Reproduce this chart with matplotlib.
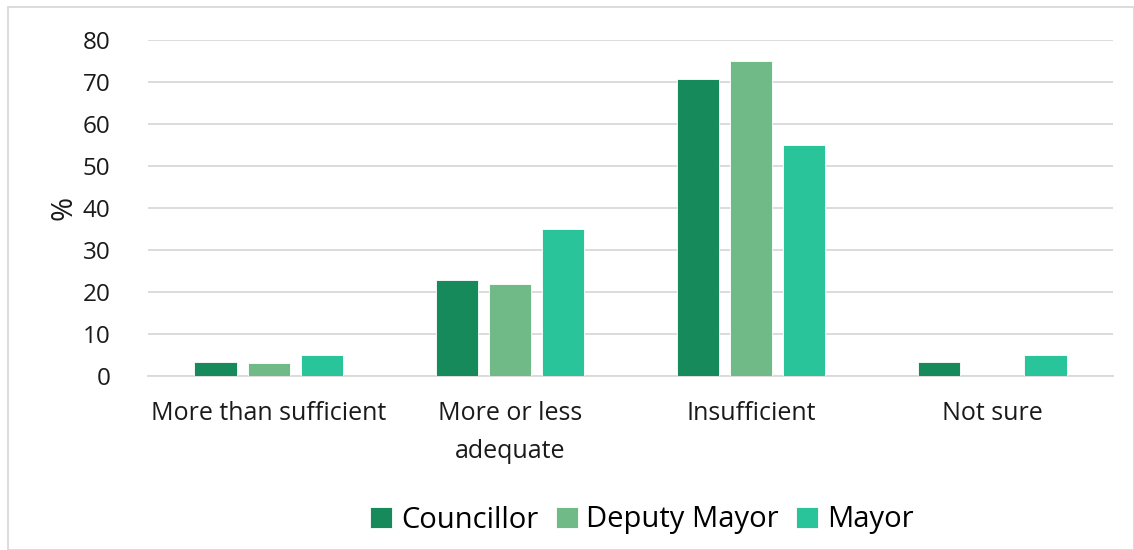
import matplotlib
matplotlib.use("Agg")
import matplotlib.pyplot as plt
import numpy as np
from matplotlib.patches import Rectangle

categories = ["More than sufficient", "More or less\nadequate", "Insufficient", "Not sure"]
series_names = ["Councillor", "Deputy Mayor", "Mayor"]
councillor = [3.3, 22.8, 70.7, 3.3]
deputy_mayor = [3.1, 21.9, 75.0, 0.0]
mayor = [5.0, 35.0, 55.0, 5.0]
yticks = [0, 10, 20, 30, 40, 50, 60, 70, 80]

colors = ["#178A5C", "#70BA87", "#2AC49A"]

plt.rcParams['font.family'] = ['Open Sans', 'DejaVu Sans']

fig = plt.figure(figsize=(11.34, 5.5), dpi=100)
ax = fig.add_axes([148/1134, 1-376/550, (1113-148)/1134, (376-40)/550])

x = np.arange(len(categories))
width = 0.175
step = 0.22
for i, (vals, name) in enumerate(zip([councillor, deputy_mayor, mayor], series_names)):
    ax.bar(x + (i-1)*step, vals, width, color=colors[i], label=name,
           edgecolor='white', linewidth=0.6, zorder=3)

ax.set_xlim(-0.5, 3.5)
ax.set_ylim(0, 80)
ax.set_yticks(yticks)
ax.set_xticks(x)
ax.set_xticklabels(categories, fontsize=18, color='#1a1a1a', linespacing=1.7)
ax.tick_params(axis='y', labelsize=17.5, colors='#1a1a1a', length=0, pad=27)
ax.tick_params(axis='x', length=0, pad=18)
ax.grid(axis='y', color='#D9D9D9', linewidth=1.3, zorder=0)
for s in ['top', 'right', 'left']:
    ax.spines[s].set_visible(False)
ax.spines['bottom'].set_color('#D9D9D9')
ax.spines['bottom'].set_linewidth(1.3)
ax.set_ylabel('%', fontsize=21, color='#1a1a1a', labelpad=3)

leg = fig.legend(loc='center', bbox_to_anchor=(642/1134, 1-520/550), ncol=3,
                 frameon=False, fontsize=21, handlelength=0.75, handleheight=0.75,
                 handletextpad=0.3, columnspacing=0.6)

fig.patches.append(Rectangle((8/1134, 0), 1-8/1134, 1-7/550, transform=fig.transFigure,
                             fill=False, edgecolor='#D9D9D9', linewidth=1.3))

fig.savefig("out.png", dpi=100)
